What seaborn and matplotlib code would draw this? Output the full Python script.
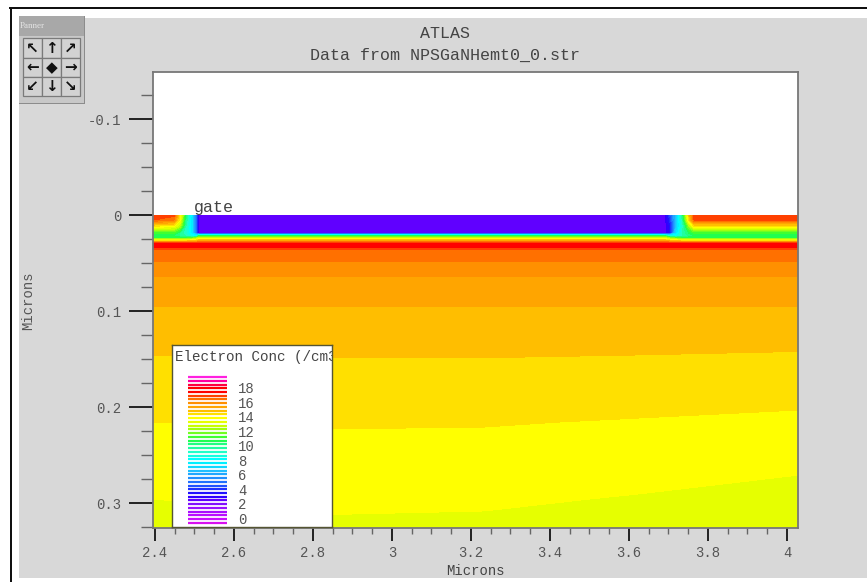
import numpy as np
import matplotlib
matplotlib.use('Agg')
import matplotlib.pyplot as plt
from matplotlib.patches import Rectangle
from matplotlib.ticker import MultipleLocator
import seaborn as sns

W, H = 867, 582

# Contour bands, one colour per half level from 0 up to 20
level_bounds = np.arange(0, 20.5, 0.5)
band_colors = [
    '#d810f0', '#c810ff', '#b810ff', '#a810ff', '#9a10ff', '#8010ff', '#6000ff', '#3000ff',
    '#2010ff', '#2030ff', '#2050ff', '#2070ff', '#2090ff', '#20a8ff', '#20c0ff', '#10d8ff',
    '#00f0ff', '#00ffff', '#10ffe0', '#20ffc8', '#20ffa0', '#20ff80', '#20ff50', '#40ff30',
    '#70ff20', '#a0ff10', '#c8ff00', '#e6ff00', '#ffff00', '#ffe000', '#ffbe00', '#ffa500',
    '#ff9000', '#ff7000', '#ff4000', '#ff0000', '#ff0000', '#ff0040', '#ff00a0', '#ff20e0',
]

# Thin layer under the surface (microns)
surface_x = [2.395, 2.448, 2.463, 2.478, 2.494, 2.506, 2.511, 3.070, 3.526, 3.690, 3.703, 3.720, 3.735, 3.751, 3.765, 4.028]
surface_y = [0.0, 0.0052, 0.0115, 0.0188, 0.0219, 0.024, 0.0271, 0.0292, 0.0323, 0.0365]
surface_z = [
    [17.4, 17.2, 14.5, 11.0, 8.0, 5.0, 3.2, 3.2, 3.2, 3.2, 5.0, 7.5, 10.5, 15.0, 17.4, 17.4],
    [17.0, 16.5, 14.2, 10.5, 8.0, 5.0, 3.2, 3.2, 3.2, 3.2, 4.5, 7.5, 10.0, 14.5, 17.0, 17.0],
    [14.6, 14.2, 13.0, 10.0, 8.0, 5.0, 3.2, 3.2, 3.2, 3.2, 4.0, 7.5, 9.5, 12.5, 14.6, 14.6],
    [11.5, 11.5, 10.5, 9.5, 8.0, 5.0, 3.2, 3.2, 3.2, 3.2, 4.0, 8.0, 10.0, 11.0, 11.5, 11.5],
    [11.0, 11.0, 10.5, 10.0, 9.0, 9.0, 11.5, 11.5, 11.5, 11.5, 9.5, 9.0, 10.0, 10.5, 11.0, 11.0],
    [11.5, 11.5, 11.5, 11.5, 12.0, 12.5, 13.5, 13.5, 13.5, 13.5, 12.5, 12.0, 11.5, 11.5, 11.5, 11.5],
    [15.0, 15.0, 15.0, 15.0, 15.2, 15.5, 16.0, 16.0, 16.0, 16.0, 15.5, 15.2, 15.0, 15.0, 15.0, 15.0],
    [17.5, 17.5, 17.5, 17.5, 17.5, 17.5, 17.5, 17.5, 17.5, 17.5, 17.5, 17.5, 17.5, 17.5, 17.5, 17.5],
    [17.9, 17.9, 17.9, 17.9, 17.9, 17.9, 17.9, 17.9, 17.9, 17.9, 17.9, 17.9, 17.9, 17.9, 17.9, 17.9],
    [17.0, 17.0, 17.0, 17.0, 17.0, 17.0, 17.0, 17.0, 17.0, 17.0, 17.0, 17.0, 17.0, 17.0, 17.0, 17.0],
]

# Bulk below it
bulk_x = [2.395, 2.858, 3.234, 3.614, 4.028]
bulk_y = [0.0365, 0.0490, 0.0646, 0.0958, 0.1458, 0.2156, 0.2958, 0.326]
bulk_z = [
    [17.0, 17.0, 17.0, 17.0, 17.0],
    [16.5, 16.5, 16.5, 16.5, 16.5],
    [16.0, 16.0, 16.0, 16.0, 16.0],
    [15.5, 15.5, 15.5, 15.5, 15.5],
    [15.0, 15.02, 15.02, 15.0, 14.96],
    [14.5, 14.54, 14.53, 14.47, 14.4],
    [14.0, 14.09, 14.07, 13.97, 13.82],
    [13.8, 13.92, 13.9, 13.8, 13.6],
]

x_ticks = [2.4, 2.6, 2.8, 3.0, 3.2, 3.4, 3.6, 3.8, 4.0]
x_tick_labels = ['2.4', '2.6', '2.8', '3', '3.2', '3.4', '3.6', '3.8', '4']
y_ticks = [-0.1, 0.0, 0.1, 0.2, 0.3]
y_tick_labels = ['-0.1', '0', '0.1', '0.2', '0.3']
legend_ticks = [0, 2, 4, 6, 8, 10, 12, 14, 16, 18]
panner_glyphs = [['\u2196', '\u2191', '\u2197'], ['\u2190', '\u25c6', '\u2192'], ['\u2199', '\u2193', '\u2198']]

sns.set_style('ticks')
plt.rcParams['font.family'] = ['Liberation Mono', 'DejaVu Sans Mono']
text_col = '#555555'


def rect(fig, x0, y0, x1, y1, **kw):
    # pixel box, y measured from the top of the image
    fig.add_artist(Rectangle((x0 / W, 1 - y1 / H), (x1 - x0) / W, (y1 - y0) / H,
                             transform=fig.transFigure, **kw))


def axes_px(fig, x0, y0, x1, y1):
    return fig.add_axes([x0 / W, 1 - y1 / H, (x1 - x0) / W, (y1 - y0) / H])


fig = plt.figure(figsize=(W / 100, H / 100), dpi=100, facecolor='white')

# screenshot background and frame
rect(fig, 19, 18, 867, 578, fc='#d8d8d8', ec='none', zorder=-2)
rect(fig, 9, 7, 867, 8.5, fc='#111111', ec='none', zorder=-1)
rect(fig, 9.5, 7, 11.5, 582, fc='#111111', ec='none', zorder=-1)

# main plot
ax = axes_px(fig, 153, 72, 798, 528)
ax.set_facecolor('white')
ax.contourf(surface_x, surface_y, surface_z, levels=level_bounds, colors=band_colors)
ax.contourf(bulk_x, bulk_y, bulk_z, levels=level_bounds, colors=band_colors)
ax.set_xlim(2.395, 4.028)
ax.set_ylim(0.326, -0.149)

ax.set_xticks(x_ticks)
ax.set_xticklabels(x_tick_labels)
ax.set_yticks(y_ticks)
ax.set_yticklabels(y_tick_labels)
ax.xaxis.set_minor_locator(MultipleLocator(0.05))
ax.yaxis.set_minor_locator(MultipleLocator(0.025))
ax.tick_params(which='major', length=17, width=1.4, color='#222222', labelcolor=text_col,
               labelsize=10, pad=6)
ax.tick_params(which='minor', length=8.5, width=1.0, color='#666666')
ax.tick_params(axis='x', which='major', length=9, pad=4)
ax.tick_params(axis='x', which='minor', length=4)
for spine in ax.spines.values():
    spine.set_color('#777777')
    spine.set_linewidth(1.3)

ax.text(2.499, 0.0, 'gate', fontsize=12, color='#444444', ha='left', va='bottom')

fig.text(445 / W, 1 - 33 / H, 'ATLAS', fontsize=12, color='#444444', ha='center', va='center')
fig.text(445 / W, 1 - 55 / H, 'Data from NPSGaNHemt0_0.str', fontsize=12, color='#444444',
         ha='center', va='center')
fig.text(475 / W, 1 - 571 / H, 'Microns', fontsize=10, color='#444444', ha='center', va='center')
fig.text(28 / W, 1 - 301 / H, 'Microns', fontsize=10, color='#555555', rotation=90,
         ha='center', va='center')

# legend box
leg = axes_px(fig, 172, 345, 332, 527)
leg.set_facecolor('white')
leg.set_xlim(172, 332)
leg.set_ylim(-0.96, 24.04)
leg.set_xticks([])
leg.set_yticks([])
for spine in leg.spines.values():
    spine.set_color('#555533')
    spine.set_linewidth(1.0)
leg.hlines(np.linspace(-0.4, 19.64, len(band_colors)), 188, 227, colors=band_colors, linewidth=1.6)
for v in legend_ticks:
    leg.text(238, v, str(v), fontsize=10, color=text_col, ha='left', va='center')
leg.text(175, 22.4, 'Electron Conc (/cm3', fontsize=10.3, color='#444444', ha='left', va='center',
         clip_on=True)

# panner widget
rect(fig, 19, 16, 85, 104, fc='#8c8c8c', ec='none', zorder=1)
rect(fig, 19, 16, 83.5, 102.5, fc='#c8c8c8', ec='none', zorder=1)
rect(fig, 19, 16, 83.5, 36, fc='#a8a8a8', ec='none', zorder=1)
fig.text(20 / W, 1 - 25.5 / H, 'Panner', fontsize=6.5, color='#e4e4e4', ha='left', va='center',
         family=['Liberation Serif'])
for r, row in enumerate(panner_glyphs):
    for c, glyph in enumerate(row):
        x0 = 23 + c * 19
        y0 = 38.5 + r * 19.3
        rect(fig, x0, y0, x0 + 19, y0 + 19.3, fc='#d2d2d2', ec='#7a7a7a', lw=0.9, zorder=1.5)
        fig.text((x0 + 9.5) / W, 1 - (y0 + 9.6) / H, glyph, fontsize=11, color='#111111',
                 ha='center', va='center', family=['DejaVu Sans'], fontweight='bold')

fig.savefig('out.png', dpi=100)
